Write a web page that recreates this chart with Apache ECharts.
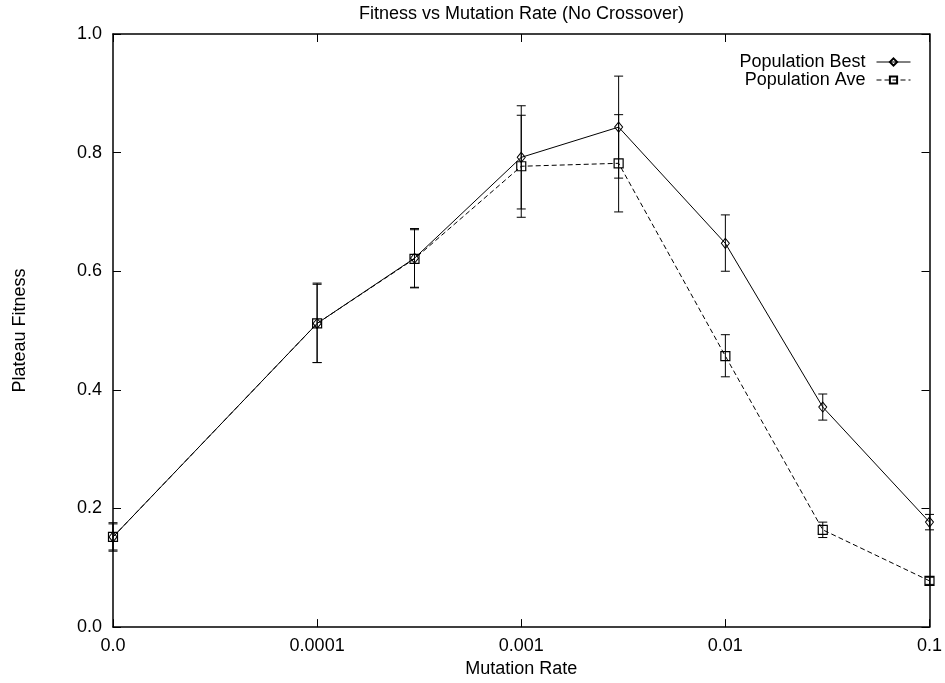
<!DOCTYPE html>
<html>
<head>
<meta charset="utf-8">
<script src="https://cdn.jsdelivr.net/npm/echarts@6/dist/echarts.min.js"></script>
<style>html,body{margin:0;padding:0;background:#fff}#c{width:945px;height:683px}</style>
</head>
<body>
<div id="c"></div>
<script>
// ---- data ----
var rates = [0, 0.0001, 0.0003, 0.001, 0.003, 0.01, 0.03, 0.1];
var xTickLabels = ['0.0', '0.0001', '0.001', '0.01', '0.1'];
var bestMean = [0.152, 0.512, 0.622, 0.792, 0.843, 0.647, 0.371, 0.177];
var bestLow  = [0.128, 0.446, 0.572, 0.705, 0.757, 0.600, 0.349, 0.164];
var bestHigh = [0.176, 0.580, 0.672, 0.879, 0.929, 0.695, 0.393, 0.190];
var aveMean  = [0.152, 0.512, 0.621, 0.777, 0.782, 0.457, 0.164, 0.078];
var aveLow   = [0.130, 0.446, 0.573, 0.691, 0.700, 0.422, 0.151, 0.072];
var aveHigh  = [0.174, 0.578, 0.670, 0.863, 0.864, 0.493, 0.177, 0.084];

// position on the plotted log-like scale (0.0 placed one decade below 0.0001)
function pos(r) { return r === 0 ? 0 : Math.log10(r) + 5; }

var FONT = 'Liberation Sans';
var chart = echarts.init(document.getElementById('c'), null, {renderer: 'canvas'});

function pts(mean) { return rates.map(function (r, i) { return [pos(r), mean[i]]; }); }
function errs(lo, hi) { return rates.map(function (r, i) { return [pos(r), lo[i], hi[i]]; }); }

function errRender(params, api) {
  var x = api.value(0), lo = api.value(1), hi = api.value(2);
  var a = api.coord([x, lo]), b = api.coord([x, hi]);
  var w = 4.5;
  var st = {stroke: '#000', lineWidth: 1, fill: null};
  return {
    type: 'group',
    children: [
      {type: 'line', shape: {x1: a[0], y1: a[1], x2: b[0], y2: b[1]}, style: st},
      {type: 'line', shape: {x1: a[0] - w, y1: a[1], x2: a[0] + w, y2: a[1]}, style: st},
      {type: 'line', shape: {x1: b[0] - w, y1: b[1], x2: b[0] + w, y2: b[1]}, style: st}
    ]
  };
}

var axisCommon = {
  axisLine: {show: true, onZero: false, lineStyle: {color: '#000', width: 1.5}},
  axisTick: {show: true, inside: true, length: 8, lineStyle: {color: '#000', width: 1}},
  splitLine: {show: false}
};

var option = {
  backgroundColor: '#fff',
  animation: false,
  textStyle: {fontFamily: FONT, color: '#000'},
  title: {
    text: 'Fitness vs Mutation Rate (No Crossover)',
    left: 521.5, top: 5, textAlign: 'center', padding: 0,
    textStyle: {fontFamily: FONT, fontSize: 18, fontWeight: 'normal', color: '#000'}
  },
  legend: {
    orient: 'vertical', right: 34, top: 53, align: 'right', padding: 0,
    itemWidth: 34, itemHeight: 9, itemGap: 0,
    lineStyle: {width: 1},
    textStyle: {fontFamily: FONT, fontSize: 18, color: '#000', padding: [0, 6, 0, 0]},
    data: ['Population Best', 'Population Ave']
  },
  grid: {left: 113, right: 15, top: 34, bottom: 54, containLabel: false},
  xAxis: [
    Object.assign({
      type: 'value', min: 0, max: 4, interval: 1, position: 'bottom',
      name: 'Mutation Rate', nameLocation: 'middle', nameGap: 29,
      nameTextStyle: {fontFamily: FONT, fontSize: 18, color: '#000'},
      axisLabel: {fontFamily: FONT, fontSize: 18, color: '#000', margin: 10,
        formatter: function (v) { return xTickLabels[Math.round(v)]; }}
    }, axisCommon),
    Object.assign({
      type: 'value', min: 0, max: 4, interval: 1, position: 'top',
      axisLabel: {show: false}
    }, axisCommon)
  ],
  yAxis: [
    Object.assign({
      type: 'value', min: 0, max: 1, interval: 0.2, position: 'left',
      name: 'Plateau Fitness', nameLocation: 'middle', nameGap: 84, nameRotate: 90,
      nameTextStyle: {fontFamily: FONT, fontSize: 18, color: '#000'},
      axisLabel: {fontFamily: FONT, fontSize: 18, color: '#000', margin: 11,
        formatter: function (v) { return v.toFixed(1); }}
    }, axisCommon),
    Object.assign({
      type: 'value', min: 0, max: 1, interval: 0.2, position: 'right',
      axisLabel: {show: false}
    }, axisCommon)
  ],
  series: [
    {
      name: 'Best errors', type: 'custom', renderItem: errRender,
      encode: {x: 0, y: [1, 2]}, data: errs(bestLow, bestHigh), z: 1, silent: true
    },
    {
      name: 'Ave errors', type: 'custom', renderItem: errRender,
      encode: {x: 0, y: [1, 2]}, data: errs(aveLow, aveHigh), z: 1, silent: true
    },
    {
      name: 'Population Best', type: 'line', data: pts(bestMean),
      symbol: 'diamond', symbolSize: [8, 10], showAllSymbol: true,
      lineStyle: {color: '#000', width: 1, type: 'solid'},
      itemStyle: {color: 'rgba(0,0,0,0)', borderColor: '#000', borderWidth: 1},
      z: 3
    },
    {
      name: 'Population Ave', type: 'line', data: pts(aveMean),
      symbol: 'rect', symbolSize: 9, showAllSymbol: true,
      lineStyle: {color: '#000', width: 1, type: [5, 3]},
      itemStyle: {color: 'rgba(0,0,0,0)', borderColor: '#000', borderWidth: 1.2},
      z: 3
    }
  ]
};
chart.setOption(option);
</script>
</body>
</html>
